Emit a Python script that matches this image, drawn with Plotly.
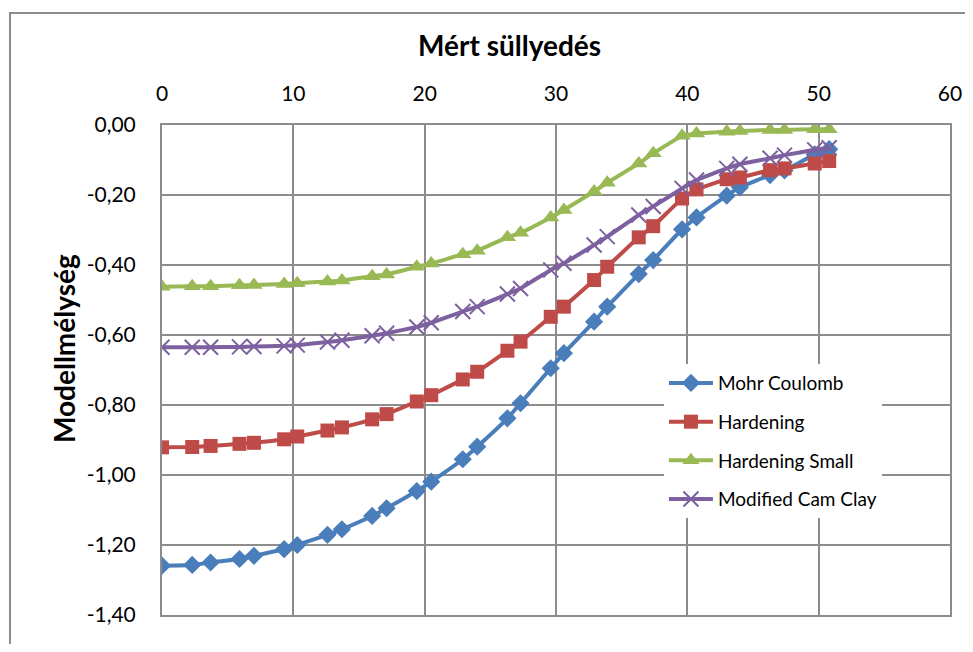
import plotly.graph_objects as go

x_vals = [0, 2.3, 3.7, 5.9, 7.0, 9.3, 10.3, 12.6, 13.7, 16.0, 17.1, 19.4, 20.5,
          22.9, 24.0, 26.3, 27.3, 29.6, 30.6, 32.9, 33.9, 36.3, 37.4, 39.6, 40.7,
          43.0, 44.0, 46.3, 47.4, 49.7, 50.8]

mohr_coulomb = [-1.259, -1.257, -1.250, -1.240, -1.231, -1.212, -1.200, -1.171, -1.155,
                -1.117, -1.095, -1.046, -1.019, -0.955, -0.919, -0.838, -0.795, -0.695,
                -0.652, -0.562, -0.519, -0.426, -0.386, -0.298, -0.264, -0.202, -0.178,
                -0.143, -0.130, -0.084, -0.069]
hardening = [-0.921, -0.920, -0.917, -0.911, -0.908, -0.898, -0.890, -0.873, -0.864,
             -0.841, -0.826, -0.790, -0.772, -0.727, -0.705, -0.645, -0.619, -0.548,
             -0.519, -0.443, -0.405, -0.321, -0.289, -0.210, -0.184, -0.155, -0.150,
             -0.129, -0.124, -0.110, -0.103]
hardening_small = [-0.462, -0.461, -0.461, -0.458, -0.457, -0.454, -0.452, -0.447, -0.444,
                   -0.432, -0.427, -0.405, -0.396, -0.369, -0.359, -0.321, -0.308, -0.264,
                   -0.243, -0.190, -0.165, -0.110, -0.081, -0.031, -0.024, -0.019, -0.017,
                   -0.014, -0.014, -0.012, -0.012]
modified_cam_clay = [-0.635, -0.635, -0.635, -0.634, -0.633, -0.631, -0.629, -0.620, -0.615,
                     -0.602, -0.595, -0.577, -0.565, -0.533, -0.519, -0.483, -0.467, -0.414,
                     -0.395, -0.343, -0.319, -0.257, -0.233, -0.181, -0.157, -0.124, -0.112,
                     -0.095, -0.086, -0.071, -0.065]

series_names = ["Mohr Coulomb", "Hardening", "Hardening Small", "Modified Cam Clay"]
series_vals = [mohr_coulomb, hardening, hardening_small, modified_cam_clay]
colors = ["#4A7EBB", "#BE4B48", "#98B954", "#7D60A0"]
symbols = ["diamond", "square", "triangle-up", "x-thin"]
sizes = [14, 14, 15, 15]

x_ticks = [0, 10, 20, 30, 40, 50, 60]
y_ticks = [0, -0.2, -0.4, -0.6, -0.8, -1.0, -1.2, -1.4]
y_ticktext = ["0,00", "-0,20", "-0,40", "-0,60", "-0,80", "-1,00", "-1,20", "-1,40"]

x_title = "Mért süllyedés"
y_title = "Modellmélység"

FONT = "Lato, 'Open Sans', sans-serif"

# figure geometry (page body has an 8px margin)
W, H = 957, 636
L, T, R, B = 154, 117, 15, 29
PW, PH = W - L - R, H - T - B

def px_x(fx):
    return (fx - L) / PW

def px_y(fy):
    return (T + PH - fy) / PH

fig = go.Figure()
for i, (name, vals) in enumerate(zip(series_names, series_vals)):
    marker = dict(symbol=symbols[i], size=sizes[i], color=colors[i])
    if symbols[i] == "x-thin":
        marker["line"] = dict(color=colors[i], width=2)
    fig.add_trace(go.Scatter(
        x=x_vals, y=vals, name=name, mode="lines+markers",
        line=dict(color=colors[i], width=4, shape="spline", smoothing=0.3),
        marker=marker, legendgroup=name,
    ))

grid_color = "#8C8C8C"
fig.update_layout(
    width=W, height=H,
    margin=dict(l=L, r=R, t=T, b=B),
    paper_bgcolor="white", plot_bgcolor="white",
    font=dict(family=FONT, size=21, color="black"),
    xaxis=dict(
        side="top", range=[0, 60], tickvals=x_ticks, automargin=False,
        showgrid=True, gridcolor=grid_color, gridwidth=2,
        showline=True, linecolor=grid_color, linewidth=2, mirror=True,
        zeroline=False, ticks="", ticklabelstandoff=14,
    ),
    yaxis=dict(
        range=[-1.4, 0], tickvals=y_ticks, ticktext=y_ticktext, automargin=False,
        showgrid=True, gridcolor=grid_color, gridwidth=2,
        showline=True, linecolor=grid_color, linewidth=2, mirror=True,
        zeroline=False, ticks="", ticklabelstandoff=20,
    ),
    legend=dict(
        x=0.637, y=0.512, xanchor="left", yanchor="top",
        bgcolor="white", borderwidth=0,
        font=dict(size=19, family=FONT),
        itemwidth=44, tracegroupgap=11, traceorder="grouped",
    ),
    showlegend=True,
    annotations=[
        dict(text="<b>" + x_title + "</b>", xref="paper", yref="paper",
             x=px_x(501), y=px_y(37), xanchor="center", yanchor="middle",
             showarrow=False, font=dict(size=28, family=FONT)),
        dict(text="<b>" + y_title + "</b>", xref="paper", yref="paper",
             x=px_x(56), y=px_y(341), xanchor="center", yanchor="middle",
             textangle=-90, showarrow=False, font=dict(size=28, family=FONT)),
    ],
    shapes=[dict(type="rect", xref="paper", yref="paper",
                 x0=px_x(2), x1=1.2, y0=-0.2, y1=px_y(5),
                 line=dict(color="#8C8C8C", width=2), fillcolor="rgba(0,0,0,0)", layer="below")],
)

fig.write_html("out.html")
